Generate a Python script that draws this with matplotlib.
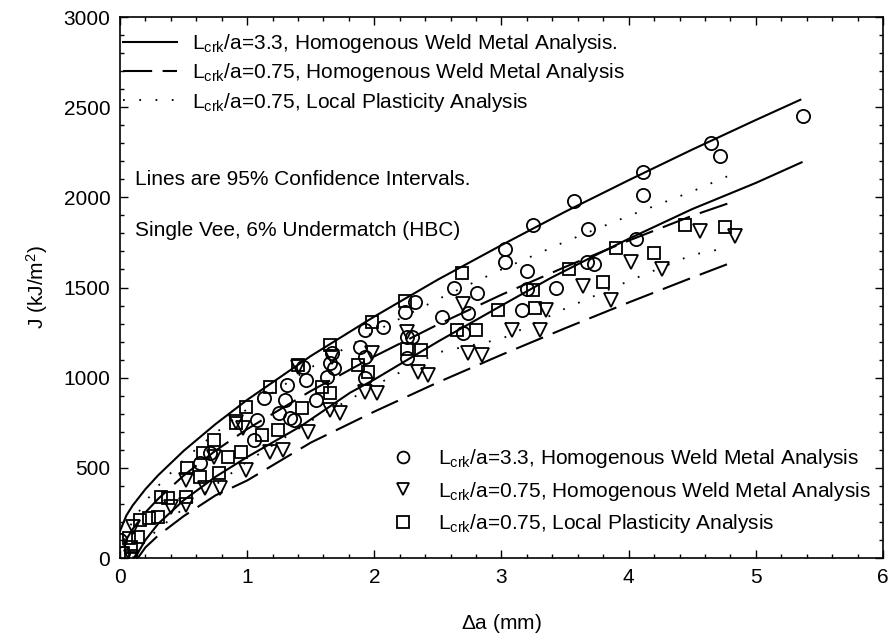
import matplotlib
matplotlib.use("Agg")
import matplotlib.pyplot as plt
from matplotlib.lines import Line2D

plt.rcParams['font.family'] = ['Liberation Sans', 'DejaVu Sans']
plt.rcParams['mathtext.default'] = 'regular'
plt.rcParams['font.size'] = 15

# measured points, L/a=3.3 homogenous weld metal
circ_x = [0.0, 0.02, 0.63, 0.71, 1.05, 1.08, 1.13, 1.25, 1.3, 1.31, 1.34, 1.37, 1.44, 1.46,
          1.54, 1.63, 1.65, 1.67, 1.68, 1.89, 1.93, 1.93, 1.93, 2.07, 2.24, 2.26, 2.3,
          2.26, 2.32, 2.53, 2.63, 2.7, 2.74, 2.81, 3.03, 3.03, 3.16, 3.2, 3.2, 3.25,
          3.43, 3.57, 3.67, 3.68, 3.73, 4.06, 4.11, 4.11, 4.65, 4.72, 5.37]
circ_y = [100, 30, 528, 583, 656, 767, 889, 806, 878, 961, 778, 767, 1061, 989,
          878, 1006, 1083, 1139, 1056, 1172, 1267, 1117, 1000, 1283, 1367, 1228, 1228,
          1111, 1422, 1339, 1500, 1250, 1361, 1467, 1711, 1639, 1378, 1594, 1494, 1844,
          1500, 1978, 1639, 1822, 1628, 1767, 2139, 2011, 2300, 2228, 2450]

# L/a=0.75 homogenous weld metal
tri_x = [0.09, 0.1, 0.4, 0.52, 0.52, 0.67, 0.74, 0.79, 0.91, 0.97, 0.99, 1.18, 1.28, 1.4,
         1.48, 1.65, 1.67, 1.73, 1.93, 1.98, 2.02, 2.26, 2.34, 2.42, 2.7, 2.74, 2.85,
         3.08, 3.3, 3.35, 3.64, 3.86, 4.02, 4.26, 4.56, 4.84]
tri_y = [5, 170, 283, 294, 433, 389, 561, 389, 756, 722, 489, 589, 600, 1061,
         700, 822, 1117, 806, 922, 1139, 917, 1256, 1033, 1017, 1411, 1139, 1128,
         1267, 1267, 1378, 1506, 1433, 1639, 1600, 1811, 1783]

# L/a=0.75 local plasticity
sq_x = [0.02, 0.07, 0.09, 0.09, 0.14, 0.16, 0.23, 0.3, 0.32, 0.38, 0.52, 0.53, 0.63, 0.65,
        0.74, 0.78, 0.85, 0.91, 0.95, 0.99, 1.12, 1.18, 1.24, 1.4, 1.43, 1.59, 1.65,
        1.65, 1.87, 1.95, 1.98, 2.24, 2.26, 2.37, 2.65, 2.69, 2.8, 2.97, 3.25, 3.26,
        3.53, 3.8, 3.9, 4.2, 4.44, 4.76]
sq_y = [28, 111, 61, 0, 117, 211, 222, 228, 339, 333, 339, 500, 450, 583,
        656, 472, 561, 750, 589, 839, 683, 950, 711, 1072, 833, 950, 1183,
        917, 1072, 1033, 1311, 1428, 1161, 1156, 1267, 1578, 1267, 1378, 1489, 1389,
        1600, 1533, 1717, 1689, 1844, 1833]

# 95% confidence bounds
ci33_x = [0.0, 0.05, 0.1, 0.2, 0.3, 0.5, 0.75, 1.0, 1.5, 2.0, 2.5, 3.0, 3.5, 4.0, 4.5, 5.0, 5.35]
ci33_hi = [150, 236, 292, 382, 459, 594, 742, 877, 1120, 1339, 1544, 1735, 1920, 2095, 2265, 2429, 2541]
ci33_lo_x = [0.12, 0.15, 0.2, 0.3, 0.5, 0.75, 1.0, 1.42, 1.81, 2.0, 2.5, 3.0, 3.38, 3.77, 4.0, 4.5, 5.0, 5.36]
ci33_lo = [0, 40, 100, 190, 320, 450, 560, 730, 917, 990, 1200, 1400, 1550, 1690, 1770, 1935, 2080, 2194]

ci75h_x = [0.03, 0.05, 0.1, 0.2, 0.3, 0.5, 0.75, 1.0, 1.5, 2.0, 2.5, 3.0, 3.5, 4.0, 4.5, 4.83]
ci75h_hi = [75, 103, 161, 253, 328, 457, 595, 715, 926, 1118, 1295, 1460, 1614, 1760, 1898, 1978]
ci75h_lo_x = [0.14, 0.2, 0.3, 0.5, 0.75, 1.0, 1.5, 2.0, 2.5, 3.0, 3.5, 4.0, 4.5, 4.83]
ci75h_lo = [0, 59, 125, 232, 347, 430, 640, 812, 974, 1127, 1274, 1417, 1555, 1644]

ci75p_x = [0.03, 0.05, 0.1, 0.2, 0.3, 0.5, 0.75, 1.0, 1.5, 2.0, 2.5, 3.0, 3.5, 4.0, 4.5, 4.83]
ci75p_hi = [100, 135, 205, 312, 400, 545, 693, 826, 1056, 1255, 1435, 1600, 1754, 1897, 2033, 2133]
ci75p_lo_x = [0.1, 0.15, 0.2, 0.3, 0.5, 0.75, 1.0, 1.5, 2.0, 2.5, 3.0, 3.5, 4.0, 4.5, 4.71]
ci75p_lo = [0, 55, 95, 160, 275, 405, 535, 760, 955, 1140, 1215, 1383, 1536, 1681, 1711]

fig = plt.figure(figsize=(8.91, 6.42), dpi=100)
ax = fig.add_axes([0.1347, 0.1308, 0.8563, 0.8427])

dash = (0, (14, 5))
dots = (0, (1, 8))
ax.plot(ci33_x, ci33_hi, color='black', lw=1.5)
ax.plot(ci33_lo_x, ci33_lo, color='black', lw=1.5)
ax.plot(ci75h_x, ci75h_hi, color='black', lw=1.5, ls=dash)
ax.plot(ci75h_lo_x, ci75h_lo, color='black', lw=1.5, ls=dash)
ax.plot(ci75p_x, ci75p_hi, color='black', lw=1.3, ls=dots)
ax.plot(ci75p_lo_x, ci75p_lo, color='black', lw=1.3, ls=dots)

mk = dict(ls='none', color='black', mfc='none', mew=1.3)
ax.plot(circ_x, circ_y, marker='o', ms=9.5, **mk)
ax.plot(tri_x, tri_y, marker='v', ms=9.5, **mk)
ax.plot(sq_x, sq_y, marker='s', ms=9, **mk)

ax.set_xlim(0, 6)
ax.set_ylim(0, 3000)
ax.set_xticks(range(0, 7))
ax.set_yticks(range(0, 3001, 500))
ax.set_xticks([i * 0.2 for i in range(31)], minor=True)
ax.set_yticks(range(0, 3001, 100), minor=True)
ax.tick_params(which='both', direction='in', top=True, right=True, width=1)
ax.tick_params(which='major', length=6, labelsize=15, pad=7)
ax.tick_params(which='minor', length=3)
for s in ax.spines.values():
    s.set_linewidth(1.2)

ax.set_xlabel(r'$\Delta$a (mm)', fontsize=15, labelpad=18)
ax.set_ylabel(r'J (kJ/m$^2$)', fontsize=15, labelpad=10)

lab33 = r'L$_{crk}$/a=3.3, Homogenous Weld Metal Analysis'
lab75h = r'L$_{crk}$/a=0.75, Homogenous Weld Metal Analysis'
lab75p = r'L$_{crk}$/a=0.75, Local Plasticity Analysis'

line_handles = [Line2D([], [], color='black', lw=1.5),
                Line2D([], [], color='black', lw=1.5, ls=dash),
                Line2D([], [], color='black', lw=1.3, ls=dots)]
leg1 = ax.legend(line_handles, [lab33 + '.', lab75h, lab75p], loc='upper left',
                 bbox_to_anchor=(0.0, 0.978), frameon=False, handlelength=2.6,
                 handletextpad=0.7, labelspacing=0.3, borderaxespad=0, borderpad=0.15,
                 fontsize=15)
ax.add_artist(leg1)

mk_handles = [Line2D([], [], marker='o', ms=8.5, **mk),
              Line2D([], [], marker='v', ms=8.5, **mk),
              Line2D([], [], marker='s', ms=8, **mk)]
ax.legend(mk_handles, [lab33, lab75h, lab75p], loc='lower left',
          bbox_to_anchor=(0.349, 0.035), frameon=False, handlelength=1.2,
          handletextpad=1.1, labelspacing=0.45, borderaxespad=0, borderpad=0.2,
          fontsize=15)

ax.text(0.02, 0.699, 'Lines are 95% Confidence Intervals.', transform=ax.transAxes,
        fontsize=15, va='center', ha='left')
ax.text(0.02, 0.606, 'Single Vee, 6% Undermatch (HBC)', transform=ax.transAxes,
        fontsize=15, va='center', ha='left')

fig.savefig('out.png', dpi=100)
